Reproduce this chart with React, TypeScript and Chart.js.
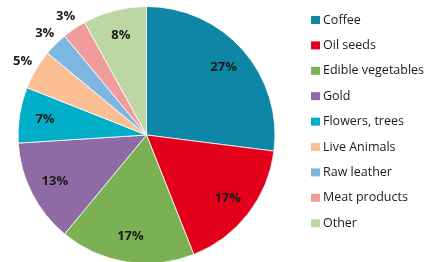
import React, { useEffect, useRef } from "react";
import { Chart, registerables } from "chart.js";

Chart.register(...registerables);

const categories = [
  "Coffee",
  "Oil seeds",
  "Edible vegetables",
  "Gold",
  "Flowers, trees",
  "Live Animals",
  "Raw leather",
  "Meat products",
  "Other",
];
const shares = [27, 17, 17, 13, 7, 5, 3, 3, 8];
const sliceColors = [
  "#0e87a6",
  "#e2001a",
  "#7bb152",
  "#8e6ba4",
  "#00afc7",
  "#fbbf93",
  "#7db6e1",
  "#f09c9d",
  "#bdd7a4",
];
const outsideLabels = [false, false, false, false, false, true, true, true, false];

const labelPlugin = {
  id: "pieLabels",
  afterDatasetsDraw(chart: any) {
    const ctx = chart.ctx;
    const meta = chart.getDatasetMeta(0);
    ctx.save();
    ctx.font = "bold 13px 'Open Sans', sans-serif";
    ctx.fillStyle = "#1a1a1a";
    ctx.textAlign = "center";
    ctx.textBaseline = "middle";
    meta.data.forEach((arc: any, i: number) => {
      const { x, y, startAngle, endAngle, outerRadius } = arc.getProps(
        ["x", "y", "startAngle", "endAngle", "outerRadius"],
        true
      );
      const mid = (startAngle + endAngle) / 2;
      const r = outsideLabels[i] ? outerRadius * 1.12 : outerRadius * 0.8;
      ctx.fillText(shares[i] + "%", x + Math.cos(mid) * r, y + Math.sin(mid) * r);
    });
    ctx.restore();
  },
};

const legendPlugin = {
  id: "customLegend",
  afterDraw(chart: any) {
    const ctx = chart.ctx;
    ctx.save();
    ctx.font = "12.5px 'Open Sans', sans-serif";
    ctx.textAlign = "left";
    ctx.textBaseline = "middle";
    const x0 = 311;
    const y0 = 20;
    const step = 25.4;
    categories.forEach((name, i) => {
      const cy = y0 + i * step;
      ctx.fillStyle = sliceColors[i];
      ctx.fillRect(x0, cy - 4, 9, 8);
      ctx.fillStyle = "#1a1a1a";
      ctx.fillText(name, x0 + 12, cy);
    });
    ctx.restore();
  },
};

export default function App() {
  const canvasRef = useRef<HTMLCanvasElement>(null);

  useEffect(() => {
    document.body.style.margin = "0";
    const canvas = canvasRef.current;
    if (!canvas) return;
    const chart = new Chart(canvas, {
      type: "pie",
      data: {
        labels: categories,
        datasets: [
          {
            data: shares,
            backgroundColor: sliceColors,
            borderColor: "#ffffff",
            borderWidth: 0.8,
          },
        ],
      },
      options: {
        responsive: false,
        animation: false,
        radius: 128.5,
        layout: { padding: { left: 18, right: 149, top: 8, bottom: 0 } },
        plugins: {
          legend: { display: false },
          tooltip: { enabled: false },
        },
      } as any,
      plugins: [labelPlugin, legendPlugin],
    });
    return () => chart.destroy();
  }, []);

  return (
    <div style={{ position: "absolute", left: 0, top: 0, width: 424, height: 262, background: "#fff" }}>
      <canvas ref={canvasRef} width={424} height={262} style={{ display: "block" }} />
    </div>
  );
}
